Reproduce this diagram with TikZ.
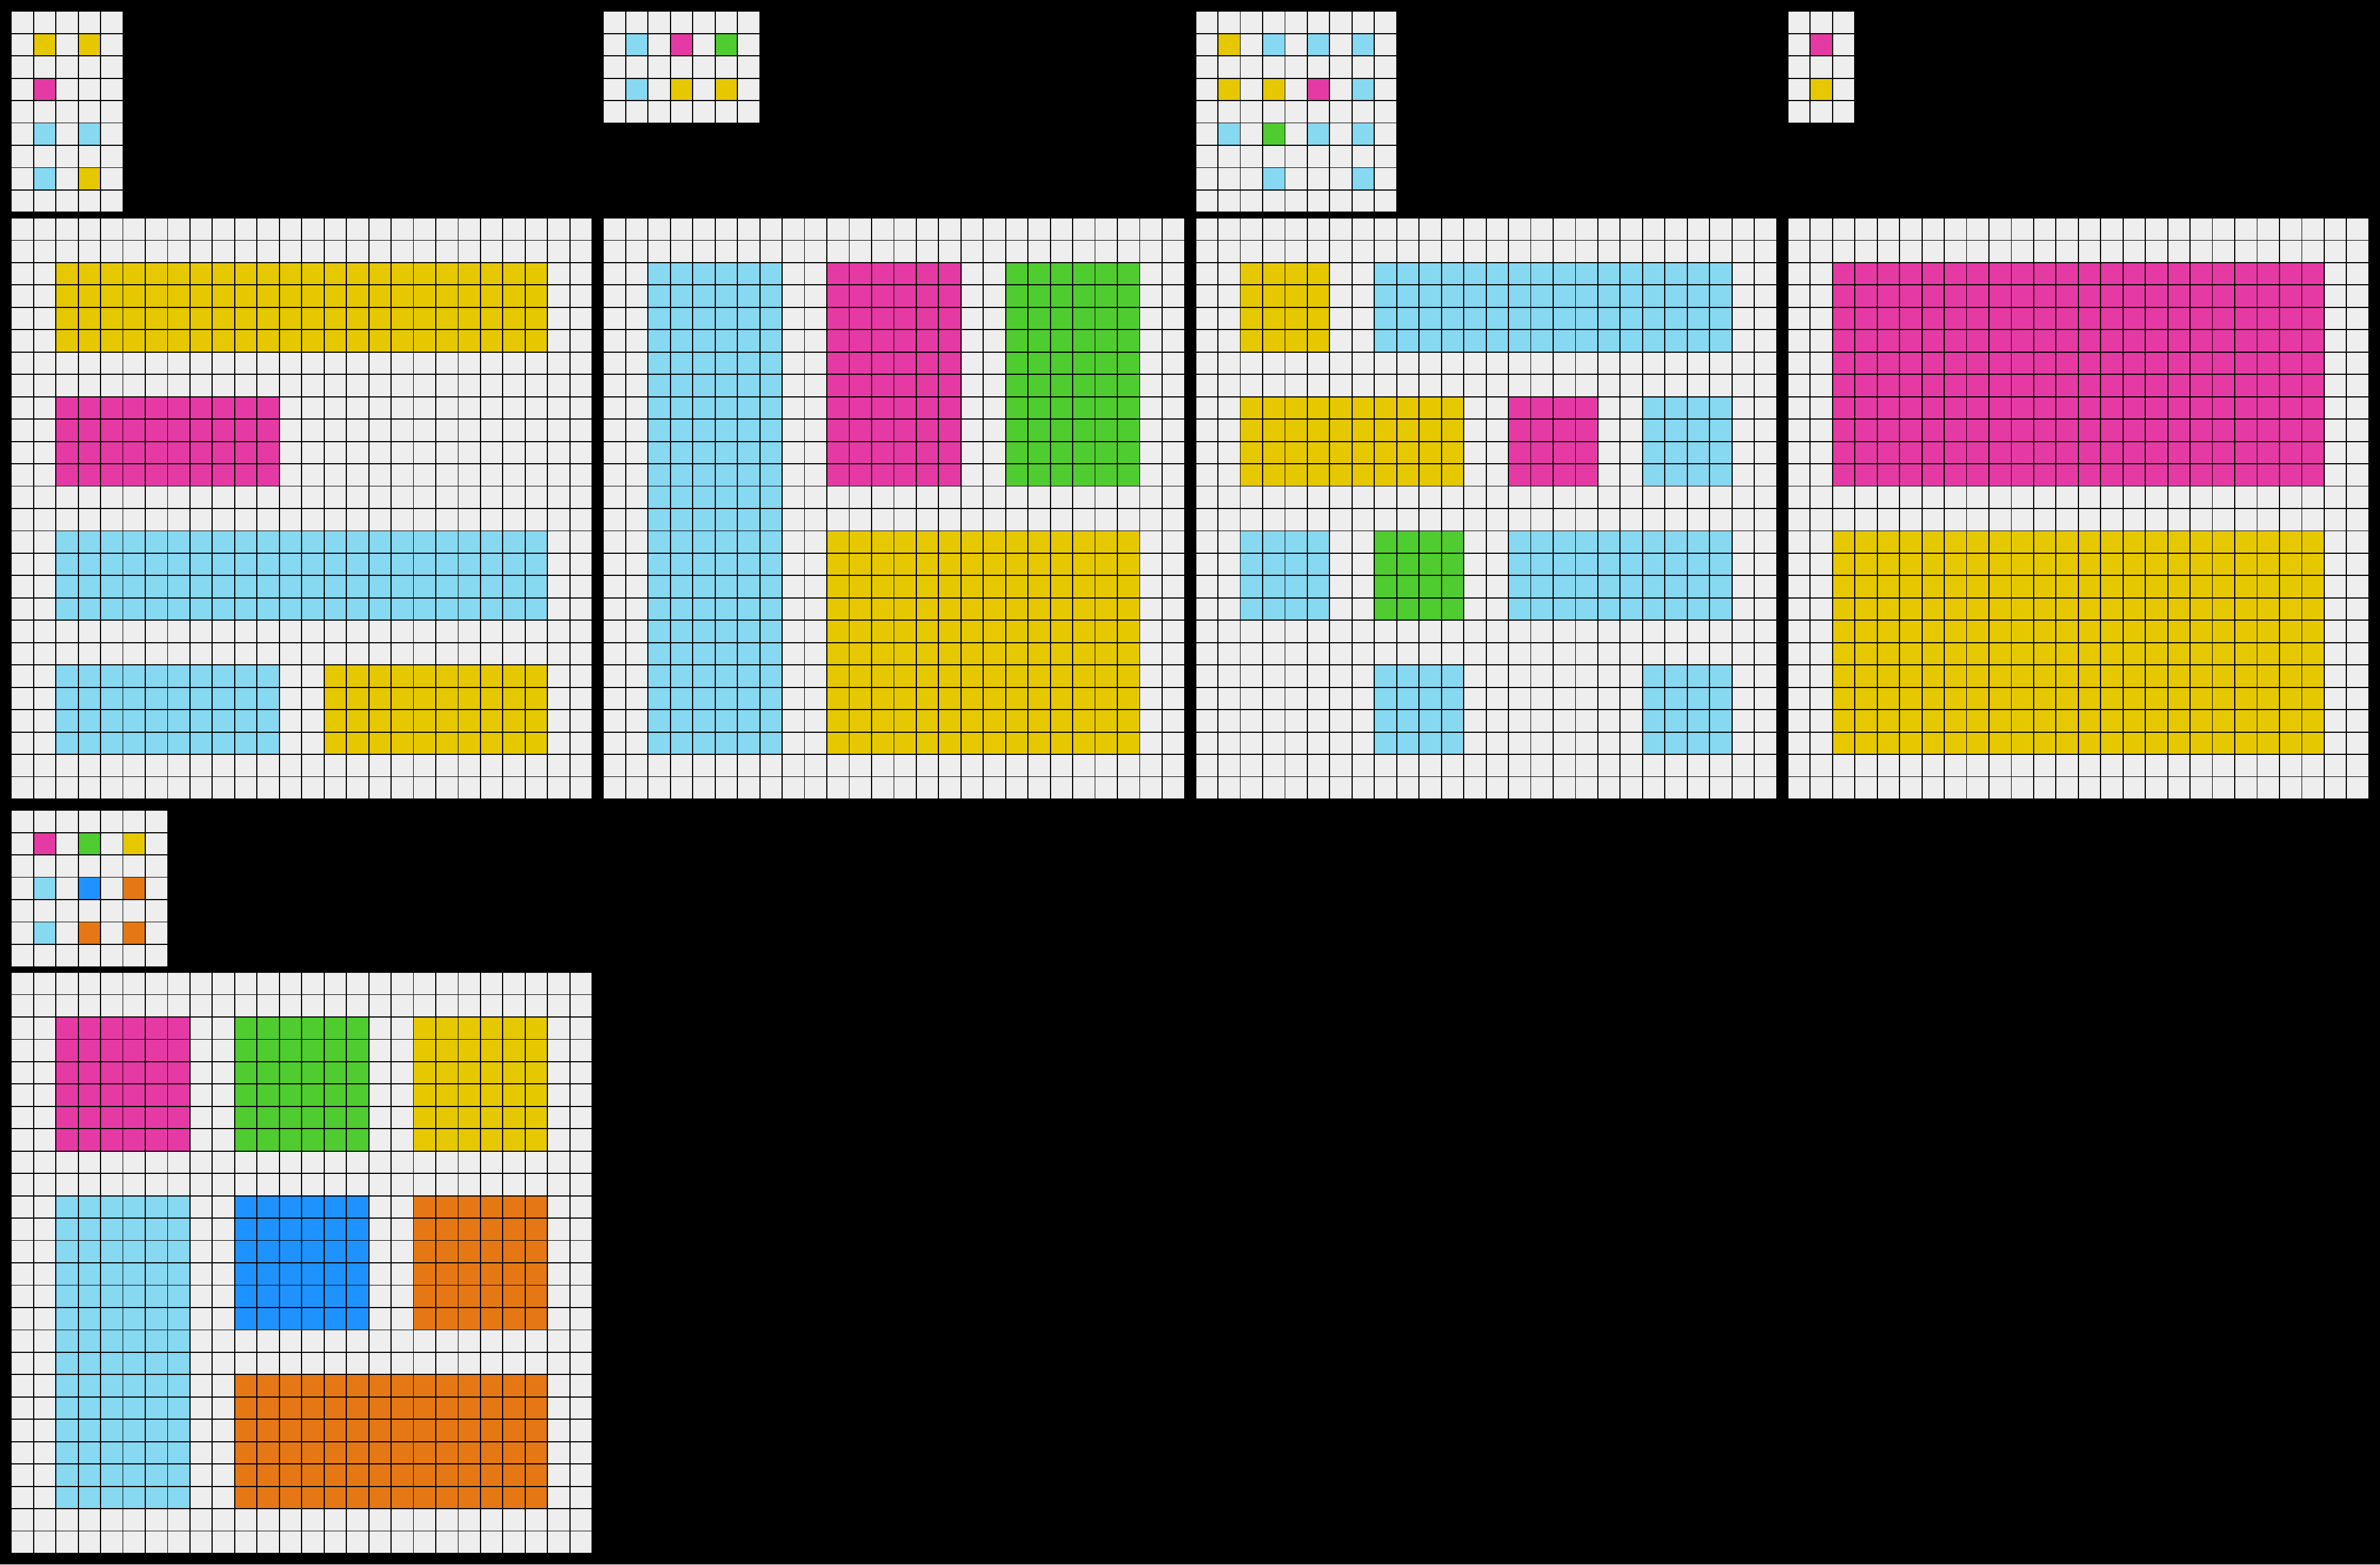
\documentclass[tikz,border=0pt]{standalone}
\usepackage{tikz}

\definecolor{cellgray}{HTML}{EEEEEE}
\definecolor{arcyellow}{HTML}{E6C800}
\definecolor{arcmagenta}{HTML}{E53AA3}
\definecolor{arcazure}{HTML}{87D8F1}
\definecolor{arcgreen}{HTML}{4FCC30}
\definecolor{arcblue}{HTML}{1E93FF}
\definecolor{arcorange}{HTML}{E57815}

% grid lines of a w x h board, drawn over the cells
\newcommand{\cellgrid}[2]{%
  \foreach \i in {0,...,#1} \draw[cellline] (\i,0) -- (\i,#2);
  \foreach \j in {0,...,#2} \draw[cellline] (0,\j) -- (#1,\j);
}

\begin{document}
\begin{tikzpicture}[x=0.5cm, y=-0.5cm,
    cellline/.style={black, line width=0.67pt},
    board/.style={fill=cellgray}]

% --- Background ---
\fill[black] (0,0) rectangle (106.5,70);

% --- Pair 1 ---
\begin{scope}[shift={(0.5,0.5)}]
  \fill[board] (0,0) rectangle (5,9);
  \foreach \x/\y/\c in {1/1/arcyellow, 3/1/arcyellow, 1/3/arcmagenta,
      1/5/arcazure, 3/5/arcazure, 1/7/arcazure, 3/7/arcyellow}
    \fill[\c] (\x,\y) rectangle ++(1,1);
  \cellgrid{5}{9}
\end{scope}
\begin{scope}[shift={(0.5,9.75)}]
  \fill[board] (0,0) rectangle (26,26);
  \foreach \x/\y/\w/\h/\c in {2/2/22/4/arcyellow, 2/8/10/4/arcmagenta,
      2/14/22/4/arcazure, 2/20/10/4/arcazure, 14/20/10/4/arcyellow}
    \fill[\c] (\x,\y) rectangle ++(\w,\h);
  \cellgrid{26}{26}
\end{scope}

% --- Pair 2 ---
\begin{scope}[shift={(27,0.5)}]
  \fill[board] (0,0) rectangle (7,5);
  \foreach \x/\y/\c in {1/1/arcazure, 3/1/arcmagenta, 5/1/arcgreen,
      1/3/arcazure, 3/3/arcyellow, 5/3/arcyellow}
    \fill[\c] (\x,\y) rectangle ++(1,1);
  \cellgrid{7}{5}
\end{scope}
\begin{scope}[shift={(27,9.75)}]
  \fill[board] (0,0) rectangle (26,26);
  \foreach \x/\y/\w/\h/\c in {2/2/6/22/arcazure, 10/2/6/10/arcmagenta,
      18/2/6/10/arcgreen, 10/14/14/10/arcyellow}
    \fill[\c] (\x,\y) rectangle ++(\w,\h);
  \cellgrid{26}{26}
\end{scope}

% --- Pair 3 ---
\begin{scope}[shift={(53.5,0.5)}]
  \fill[board] (0,0) rectangle (9,9);
  \foreach \x/\y/\c in {1/1/arcyellow, 3/1/arcazure, 5/1/arcazure, 7/1/arcazure,
      1/3/arcyellow, 3/3/arcyellow, 5/3/arcmagenta, 7/3/arcazure,
      1/5/arcazure, 3/5/arcgreen, 5/5/arcazure, 7/5/arcazure,
      3/7/arcazure, 7/7/arcazure}
    \fill[\c] (\x,\y) rectangle ++(1,1);
  \cellgrid{9}{9}
\end{scope}
\begin{scope}[shift={(53.5,9.75)}]
  \fill[board] (0,0) rectangle (26,26);
  \foreach \x/\y/\w/\h/\c in {2/2/4/4/arcyellow, 8/2/16/4/arcazure,
      2/8/10/4/arcyellow, 14/8/4/4/arcmagenta, 20/8/4/4/arcazure,
      2/14/4/4/arcazure, 8/14/4/4/arcgreen, 14/14/10/4/arcazure,
      8/20/4/4/arcazure, 20/20/4/4/arcazure}
    \fill[\c] (\x,\y) rectangle ++(\w,\h);
  \cellgrid{26}{26}
\end{scope}

% --- Pair 4 ---
\begin{scope}[shift={(80,0.5)}]
  \fill[board] (0,0) rectangle (3,5);
  \foreach \x/\y/\c in {1/1/arcmagenta, 1/3/arcyellow}
    \fill[\c] (\x,\y) rectangle ++(1,1);
  \cellgrid{3}{5}
\end{scope}
\begin{scope}[shift={(80,9.75)}]
  \fill[board] (0,0) rectangle (26,26);
  \foreach \x/\y/\w/\h/\c in {2/2/22/10/arcmagenta, 2/14/22/10/arcyellow}
    \fill[\c] (\x,\y) rectangle ++(\w,\h);
  \cellgrid{26}{26}
\end{scope}

% --- Pair 5 ---
\begin{scope}[shift={(0.5,36.25)}]
  \fill[board] (0,0) rectangle (7,7);
  \foreach \x/\y/\c in {1/1/arcmagenta, 3/1/arcgreen, 5/1/arcyellow,
      1/3/arcazure, 3/3/arcblue, 5/3/arcorange,
      1/5/arcazure, 3/5/arcorange, 5/5/arcorange}
    \fill[\c] (\x,\y) rectangle ++(1,1);
  \cellgrid{7}{7}
\end{scope}
\begin{scope}[shift={(0.5,43.5)}]
  \fill[board] (0,0) rectangle (26,26);
  \foreach \x/\y/\w/\h/\c in {2/2/6/6/arcmagenta, 10/2/6/6/arcgreen,
      18/2/6/6/arcyellow, 2/10/6/14/arcazure, 10/10/6/6/arcblue,
      18/10/6/6/arcorange, 10/18/14/6/arcorange}
    \fill[\c] (\x,\y) rectangle ++(\w,\h);
  \cellgrid{26}{26}
\end{scope}

\end{tikzpicture}
\end{document}
